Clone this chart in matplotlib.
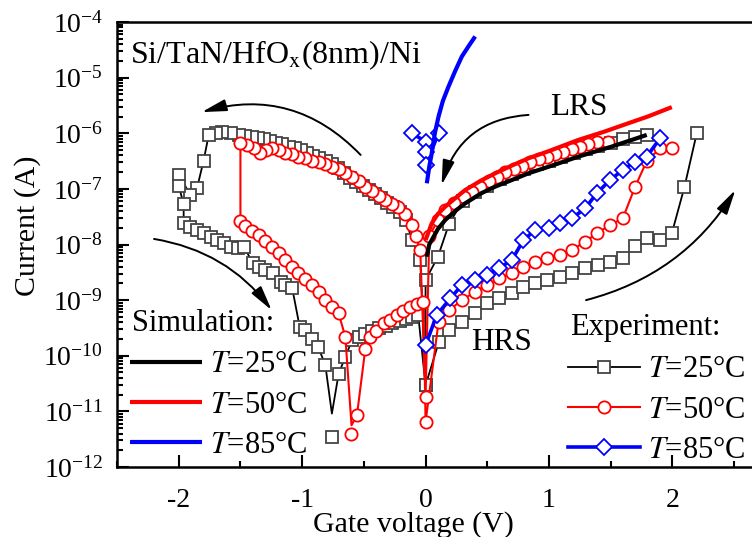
import numpy as np
import matplotlib
matplotlib.use('Agg')
import matplotlib.pyplot as plt
from matplotlib.lines import Line2D
from matplotlib.ticker import LogLocator, MultipleLocator, NullFormatter, FixedLocator

plt.rcParams['font.family'] = ['Liberation Serif', 'DejaVu Serif']
plt.rcParams['mathtext.fontset'] = 'stix'
plt.rcParams['font.size'] = 20
plt.rcParams['axes.unicode_minus'] = False

# ---------------- data (gate voltage V, log10 current A) ----------------
# Experiment, T = 25 C  (LRS+, left loop, HRS+)
black_v = [1.79, 1.70, 1.60, 1.50, 1.40, 1.30, 1.20, 1.10, 1.00, 0.90, 0.80, 0.70, 0.60, 0.50, 0.40, 0.30,
           0.19, 0.10, 0.00, 0.00,
           -0.043, -0.11, -0.16, -0.21, -0.26, -0.31, -0.36, -0.41, -0.46, -0.51, -0.56, -0.61, -0.66, -0.71,
           -0.76, -0.81, -0.86, -0.91, -0.96, -1.01, -1.06, -1.11, -1.16, -1.21, -1.26, -1.31, -1.36, -1.41,
           -1.46, -1.51, -1.58, -1.65, -1.70, -1.757, -1.798, -1.852, -1.905, -2.0, -2.0, -1.96, -1.96,
           -1.905, -1.852, -1.798, -1.74, -1.69, -1.63, -1.58, -1.52, -1.47, -1.40, -1.35, -1.30, -1.24,
           -1.17, -1.136, -1.08, -1.02, -0.98, -0.92, -0.87, -0.812, -0.759, -0.704, -0.65, -0.596, -0.54,
           -0.488, -0.43, -0.38, -0.32, -0.27, -0.21, -0.16, -0.11, -0.06, 0.0,
           0.108, 0.192, 0.294, 0.402, 0.497, 0.591, 0.699, 0.793, 0.888, 0.982, 1.09, 1.185, 1.293, 1.40,
           1.495, 1.598, 1.698, 1.792, 1.90, 1.995, 2.097, 2.197]
black_logi = [-6.03, -6.07, -6.10, -6.17, -6.23, -6.29, -6.35, -6.42, -6.49, -6.56, -6.64, -6.73, -6.83, -6.94,
              -7.06, -7.22, -7.63, -8.22, -8.64, -10.53,
              -8.28, -7.92, -7.56, -7.42, -7.33, -7.25, -7.17, -7.10, -7.02, -6.95, -6.88, -6.80, -6.71, -6.63,
              -6.55, -6.50, -6.45, -6.40, -6.35, -6.31, -6.27, -6.24, -6.20, -6.17, -6.14, -6.11, -6.09, -6.07,
              -6.05, -6.03, -6.00, -5.97, -5.99, -6.03, -6.49, -6.99, -7.11, -6.75, -6.95, -7.27, -7.62,
              -7.68, -7.74, -7.80, -7.86, -7.92, -7.98, -8.04, -8.07, -8.04, -8.34, -8.40, -8.46, -8.52,
              -8.67, -8.73, -8.79, -9.48, -9.54, -9.69, -9.84, -10.17, -11.04, -10.32, -10.02, -9.72, -9.66,
              -9.60, -9.55, -9.50, -9.46, -9.42, -9.38, -9.34, -9.30, -9.26, -10.53,
              -9.75, -9.54, -9.39, -9.24, -9.06, -8.97, -8.88, -8.76, -8.70, -8.64, -8.58, -8.52, -8.43, -8.37,
              -8.31, -8.25, -8.03, -7.89, -7.92, -7.80, -6.97, -6.00]
black_tip_v = -0.759
black_iso_v = [-0.759]
black_iso_logi = [-11.46]

# Experiment, T = 50 C
red_v = [1.48, 1.387, 1.32, 1.252, 1.185, 1.117, 1.05, 0.983, 0.915, 0.848, 0.78, 0.713, 0.645, 0.578, 0.51,
         0.443, 0.375, 0.308, 0.227, 0.159, 0.10, 0.03, 0.0,
         -0.043, -0.08, -0.11, -0.165, -0.22, -0.273, -0.33, -0.38, -0.43, -0.488, -0.54, -0.596, -0.65,
         -0.704, -0.76, -0.812, -0.866, -0.92, -0.975, -1.03, -1.08, -1.136, -1.19, -1.244, -1.29, -1.34,
         -1.39, -1.447, -1.50, -1.50, -1.46, -1.406, -1.352, -1.30, -1.244, -1.19, -1.136, -1.08, -1.03,
         -0.975, -0.92, -0.866, -0.812, -0.758, -0.704, -0.65, -0.60, -0.556, -0.488, -0.45, -0.40, -0.34,
         -0.29, -0.233, -0.18, -0.125, -0.07, -0.017, 0.0,
         0.105, 0.192, 0.294, 0.402, 0.50, 0.591, 0.699, 0.793, 0.888, 0.982, 1.09, 1.185, 1.293, 1.387,
         1.495, 1.598, 1.698, 1.792, 1.90, 1.995]
red_logi = [-6.15, -6.16, -6.19, -6.24, -6.28, -6.33, -6.37, -6.42, -6.47, -6.52, -6.58, -6.64, -6.70, -6.78,
            -6.85, -6.96, -7.05, -7.14, -7.26, -7.38, -7.56, -7.85, -10.74,
            -8.10, -7.85, -7.65, -7.45, -7.33, -7.27, -7.20, -7.12, -7.04, -6.96, -6.86, -6.78, -6.71,
            -6.65, -6.60, -6.56, -6.52, -6.49, -6.45, -6.42, -6.38, -6.35, -6.31, -6.27, -6.30, -6.36,
            -6.27, -6.21, -6.18, -7.57, -7.66, -7.75, -7.83, -7.93, -8.04, -8.16, -8.28, -8.40, -8.52,
            -8.62, -8.73, -8.86, -9.00, -9.12, -9.24, -9.66, -11.25, -11.07, -9.87, -9.66, -9.55, -9.42,
            -9.35, -9.27, -9.20, -9.12, -9.07, -9.03, -11.19,
            -9.39, -9.18, -9.00, -8.85, -8.72, -8.61, -8.52, -8.40, -8.31, -8.25, -8.19, -8.10, -7.95, -7.80,
            -7.65, -7.53, -6.96, -6.50, -6.27, -6.27]
red_tip_v = -0.60
red_iso_v = [-0.605]
red_iso_logi = [-11.40]

# Experiment, T = 85 C
blue_hrs_v = [0.0, 0.09, 0.20, 0.294, 0.40, 0.497, 0.591, 0.699, 0.793, 0.888, 0.996, 1.09, 1.185, 1.293,
              1.387, 1.495, 1.598, 1.698, 1.792, 1.90]
blue_hrs_logi = [-9.81, -9.27, -8.97, -8.73, -8.64, -8.55, -8.43, -8.28, -7.92, -7.74, -7.71, -7.62, -7.53,
                 -7.35, -7.08, -6.84, -6.66, -6.51, -6.42, -6.09]
blue_lrs_v = [-0.111, 0.0, 0.0, 0.0, 0.105]
blue_lrs_logi = [-6.00, -6.15, -6.34, -6.57, -6.00]

# Simulation
sim25_v = [0.01, 0.03, 0.065, 0.10, 0.159, 0.25, 0.321, 0.45, 0.564, 0.70, 0.834, 1.0, 1.238, 1.508, 1.792]
sim25_logi = [-8.22, -8.00, -7.86, -7.72, -7.56, -7.38, -7.26, -7.08, -6.96, -6.84, -6.72, -6.60, -6.42,
              -6.24, -6.03]
sim50_v = [0.0, 0.05, 0.10, 0.159, 0.25, 0.321, 0.45, 0.564, 0.70, 0.834, 1.0, 1.238, 1.45, 1.643, 1.80, 1.995]
sim50_logi = [-7.92, -7.62, -7.45, -7.32, -7.15, -7.02, -6.85, -6.72, -6.58, -6.45, -6.32, -6.12, -5.97,
              -5.82, -5.70, -5.53]
sim85_v = [0.01, 0.03, 0.05, 0.075, 0.105, 0.14, 0.186, 0.24, 0.294, 0.35, 0.402]
sim85_logi = [-6.90, -6.60, -6.36, -6.00, -5.70, -5.42, -5.16, -4.88, -4.62, -4.43, -4.26]

temp_labels = ['$T$=25°C', '$T$=50°C', '$T$=85°C']
x_ticks = [-2, -1, 0, 1, 2]
y_decades = [-12, -11, -10, -9, -8, -7, -6, -5, -4]

# ---------------- figure ----------------
fig = plt.figure(figsize=(7.52, 5.37), dpi=100)
ax = fig.add_axes([117 / 752, 70 / 537, 648 / 752, 445 / 537])
ax.set_yscale('log')
ax.set_xlim(-2.5, 2.75)
ax.set_ylim(1e-12, 1e-4)

sq_edge = '#444444'
MS_SQ, MS_O, MS_D = 8.6, 8.8, 8.0
FS_TXT = 22


def plot_exp(v, logi, tip_v, color, medge, marker, ms, lw):
    v = np.asarray(v, dtype=float)
    cur = 10.0 ** np.asarray(logi, dtype=float)
    ax.plot(v, cur, color=color, lw=lw, zorder=2)
    keep = np.ones(len(v), dtype=bool)
    if tip_v is not None:
        keep[list(v).index(tip_v)] = False
    ax.plot(v[keep], cur[keep], ls='none', marker=marker, ms=ms, mfc='white', mec=medge, mew=1.3, zorder=2)


plot_exp(black_v, black_logi, black_tip_v, 'black', sq_edge, 's', MS_SQ, 1.3)
ax.plot(black_iso_v, 10.0 ** np.asarray(black_iso_logi), ls='none', marker='s', ms=MS_SQ, mfc='white',
        mec=sq_edge, mew=1.3)
plot_exp(red_v, red_logi, red_tip_v, 'red', 'red', 'o', MS_O, 1.5)
ax.plot(red_iso_v, 10.0 ** np.asarray(red_iso_logi), ls='none', marker='o', ms=MS_O, mfc='white',
        mec='red', mew=1.3)
plot_exp(blue_hrs_v, blue_hrs_logi, None, 'blue', 'blue', 'D', MS_D, 2.6)
plot_exp(blue_lrs_v, blue_lrs_logi, None, 'blue', 'blue', 'D', MS_D, 2.6)

sim_lines = []
for v, li, c in [(sim25_v, sim25_logi, 'black'), (sim50_v, sim50_logi, 'red'), (sim85_v, sim85_logi, 'blue')]:
    ln, = ax.plot(v, 10.0 ** np.asarray(li), color=c, lw=3.0, zorder=3, solid_capstyle='butt')
    sim_lines.append(ln)

# ---------------- axes styling ----------------
ax.spines['right'].set_visible(False)
for s in ['left', 'bottom', 'top']:
    ax.spines[s].set_linewidth(1.8)
ax.xaxis.set_major_locator(FixedLocator(x_ticks))
ax.xaxis.set_minor_locator(MultipleLocator(0.5))
ax.yaxis.set_major_locator(FixedLocator([10.0 ** d for d in y_decades]))
ax.yaxis.set_minor_locator(LogLocator(base=10, subs=np.arange(2, 10), numticks=20))
ax.yaxis.set_minor_formatter(NullFormatter())
ax.tick_params(which='both', direction='in', top=False, right=False, width=1.5, labelsize=20)
ax.tick_params(which='major', length=8.5)
ax.tick_params(which='minor', length=4.5)
ax.tick_params(axis='x', pad=15)
ax.tick_params(axis='y', pad=10)

ax.set_xlabel('Gate voltage (V)', fontsize=21.5)
ax.xaxis.set_label_coords(0.458, -0.099)
ax.set_ylabel('Current (A)', fontsize=21.5)
ax.yaxis.set_label_coords(-0.117, 0.542)

# ---------------- text ----------------
ax.text(0.02, 0.908, 'Si/TaN/HfO$_\\mathrm{x}$(8nm)/Ni', transform=ax.transAxes, fontsize=23,
        va='baseline')
ax.text(0.668, 0.791, 'LRS', transform=ax.transAxes, fontsize=22.5, va='baseline')
ax.text(0.547, 0.263, 'HRS', transform=ax.transAxes, fontsize=22.5, va='baseline')
ax.text(0.0227, 0.306, 'Simulation:', transform=ax.transAxes, fontsize=FS_TXT, va='baseline')
ax.text(0.699, 0.297, 'Experiment:', transform=ax.transAxes, fontsize=FS_TXT, va='baseline')

# ---------------- legends ----------------
leg_kw = dict(loc='upper left', frameon=False, fontsize=FS_TXT, handlelength=2.35, handletextpad=0.26,
              labelspacing=0.37, borderpad=0, borderaxespad=0)
leg1 = ax.legend(sim_lines, temp_labels, bbox_to_anchor=(0.020, 0.262), **leg_kw)
ax.add_artist(leg1)
exp_handles = [
    Line2D([], [], color='black', lw=1.3, marker='s', ms=MS_SQ, mfc='white', mec=sq_edge, mew=1.3),
    Line2D([], [], color='red', lw=1.5, marker='o', ms=MS_O, mfc='white', mec='red', mew=1.3),
    Line2D([], [], color='blue', lw=2.6, marker='D', ms=MS_D, mfc='white', mec='blue', mew=1.3),
]
ax.legend(exp_handles, temp_labels, bbox_to_anchor=(0.696, 0.251), numpoints=1, **leg_kw)

# ---------------- arrows ----------------
arrow_kw = dict(arrowstyle='-|>,head_length=0.75,head_width=0.18', color='black', lw=1.4,
                shrinkA=0, shrinkB=0, mutation_scale=20)
for (x0, l0), (x1, l1), rad in [((-0.526, -6.39), (-1.814, -5.62), 0.3),
                                ((-2.20, -7.90), (-1.247, -9.18), -0.2),
                                ((0.834, -5.67), (0.13, -6.93), 0.35),
                                ((1.30, -9.0), (2.51, -7.02), 0.2)]:
    ax.annotate('', xy=(x1, 10 ** l1), xytext=(x0, 10 ** l0),
                arrowprops=dict(connectionstyle='arc3,rad=%g' % rad, **arrow_kw))

fig.savefig('out.png', dpi=100)
